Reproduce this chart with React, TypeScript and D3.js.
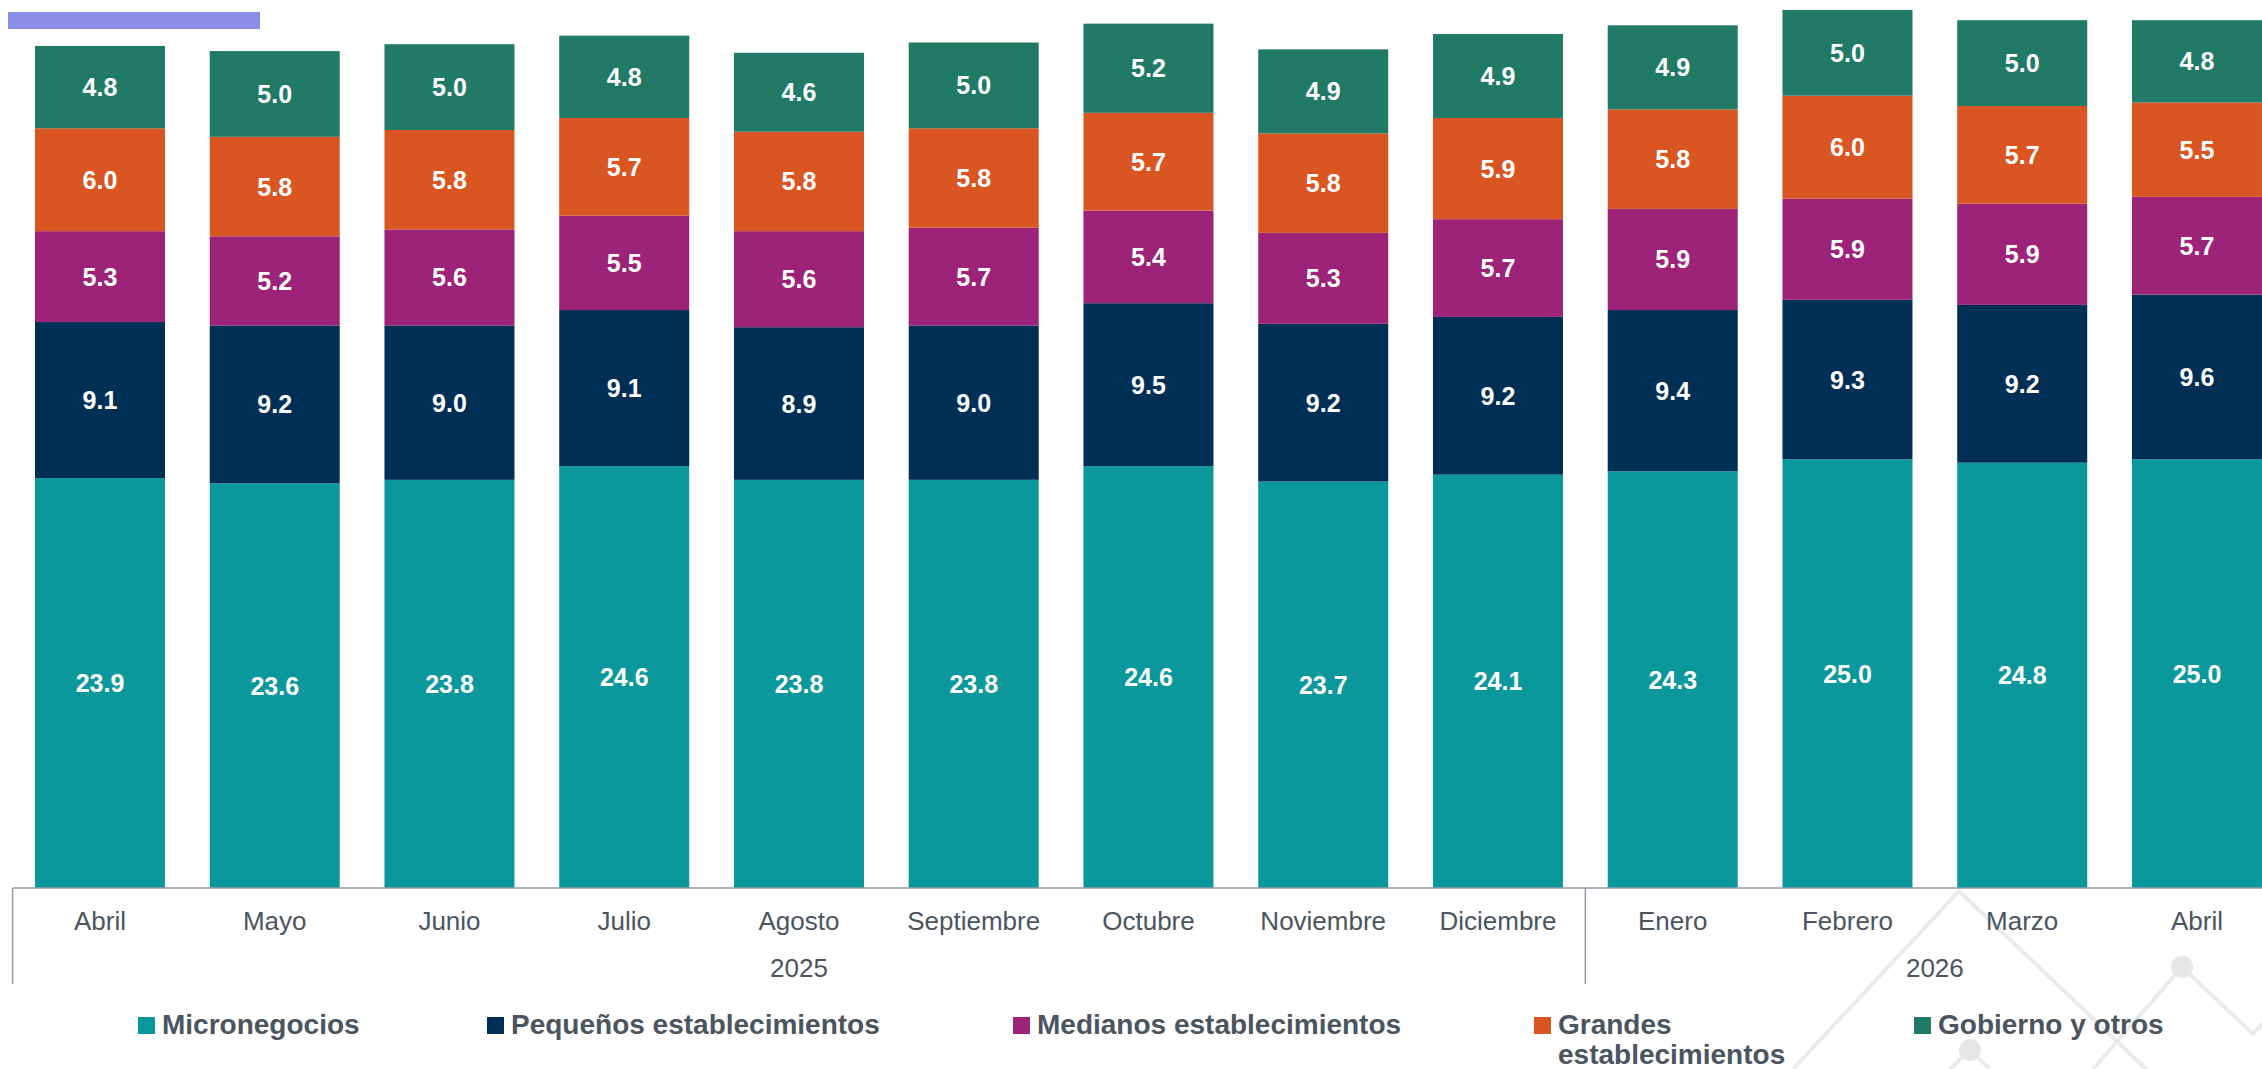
import React from "react";
import * as d3 from "d3";

const months = ["Abril","Mayo","Junio","Julio","Agosto","Septiembre","Octubre","Noviembre","Diciembre","Enero","Febrero","Marzo","Abril"];
const years = [{ label: "2025", from: 0, to: 9 }, { label: "2026", from: 9, to: 13 }];

const seriesNames = ["Micronegocios","Pequeños establecimientos","Medianos establecimientos","Grandes establecimientos","Gobierno y otros"];
const seriesColors = ["#0B989C","#002F56","#9C2378","#D95521","#207A66"];

const micronegocios = [23.9,23.6,23.8,24.6,23.8,23.8,24.6,23.7,24.1,24.3,25.0,24.8,25.0];
const pequenos = [9.1,9.2,9.0,9.1,8.9,9.0,9.5,9.2,9.2,9.4,9.3,9.2,9.6];
const medianos = [5.3,5.2,5.6,5.5,5.6,5.7,5.4,5.3,5.7,5.9,5.9,5.9,5.7];
const grandes = [6.0,5.8,5.8,5.7,5.8,5.8,5.7,5.8,5.9,5.8,6.0,5.7,5.5];
const gobierno = [4.8,5.0,5.0,4.8,4.6,5.0,5.2,4.9,4.9,4.9,5.0,5.0,4.8];

const seriesValues = [micronegocios, pequenos, medianos, grandes, gobierno];

const W = 2262, H = 1069;
const baseY = 888;
const TEXT = "#4B5560";
const FONT = "'Liberation Sans', Arial, sans-serif";

export default function App() {
  const ids = months.map((_, i) => String(i));
  const x = d3.scaleBand<string>().domain(ids).range([12.6, 12.6 + 13 * 174.75]).paddingInner(0.256).paddingOuter(0.128);
  const y = d3.scaleLinear().domain([0, baseY / 17.15]).range([baseY, 0]);

  const rows = months.map((_, i) => {
    const r: any = { id: String(i) };
    seriesNames.forEach((s, k) => (r[s] = seriesValues[k][i]));
    return r;
  });
  const stacked = d3.stack<any>().keys(seriesNames)(rows);

  const legendX = [138, 487, 1013, 1534, 1914];
  const bandStart = (i: number) => (x(String(i)) as number) - x.step() * 0.128;

  return (
    <svg width={W} height={H} style={{ position: "absolute", left: 0, top: 0, background: "#fff" }} fontFamily={FONT}>
      {/* decorative background */}
      <g stroke="#EBEBEB" strokeWidth={4} fill="none">
        <path d="M1793,1069 L1959,891 L2146,1069" />
        <path d="M2093,1069 L2182,967 L2253,1034 L2270,1016" />
        <path d="M1950,1069 L1970,1050 L1990,1069" />
        <path d="M2137,1060 L2147,1069" />
      </g>
      <circle cx={2182} cy={967} r={11} fill="#E6E6E6" />
      <circle cx={1970} cy={1050} r={11} fill="#E6E6E6" />

      <rect x={8} y={12} width={252} height={17} fill="#8A8DE6" />

      {stacked.map((layer, k) => (
        <g key={k}>
          {layer.map((d, i) => (
            <g key={i}>
              <rect x={x(String(i))} y={y(d[1])} width={x.bandwidth()} height={y(d[0]) - y(d[1])} fill={seriesColors[k]} />
              <text x={(x(String(i)) as number) + x.bandwidth() / 2} y={(y(d[0]) + y(d[1])) / 2} dy="0.36em" textAnchor="middle" fill="#fff" fontWeight="bold" fontSize={25}>
                {seriesValues[k][i].toFixed(1)}
              </text>
            </g>
          ))}
        </g>
      ))}

      <line x1={12.6} x2={W} y1={baseY} y2={baseY} stroke="#8F9BA8" strokeWidth={1.5} />
      {[0, 9].map((i) => (
        <line key={i} x1={bandStart(i)} x2={bandStart(i)} y1={baseY} y2={984} stroke="#8F9BA8" strokeWidth={1.5} />
      ))}
      {months.map((m, i) => (
        <text key={i} x={(x(String(i)) as number) + x.bandwidth() / 2} y={930} textAnchor="middle" fill={TEXT} fontSize={26}>{m}</text>
      ))}
      {years.map((yr) => (
        <text key={yr.label} x={(bandStart(yr.from) + bandStart(yr.from) + (yr.to - yr.from) * x.step()) / 2} y={977} textAnchor="middle" fill={TEXT} fontSize={26}>{yr.label}</text>
      ))}

      {seriesNames.map((s, k) => {
        const words = s === "Grandes establecimientos" ? ["Grandes", "establecimientos"] : [s];
        return (
          <g key={s}>
            <rect x={legendX[k]} y={1017} width={17} height={17} fill={seriesColors[k]} />
            <text x={legendX[k] + 24} y={1034} fill={TEXT} fontWeight="bold" fontSize={28}>
              {words.map((w, j) => (
                <tspan key={j} x={legendX[k] + 24} dy={j === 0 ? 0 : 30}>{w}</tspan>
              ))}
            </text>
          </g>
        );
      })}
    </svg>
  );
}
